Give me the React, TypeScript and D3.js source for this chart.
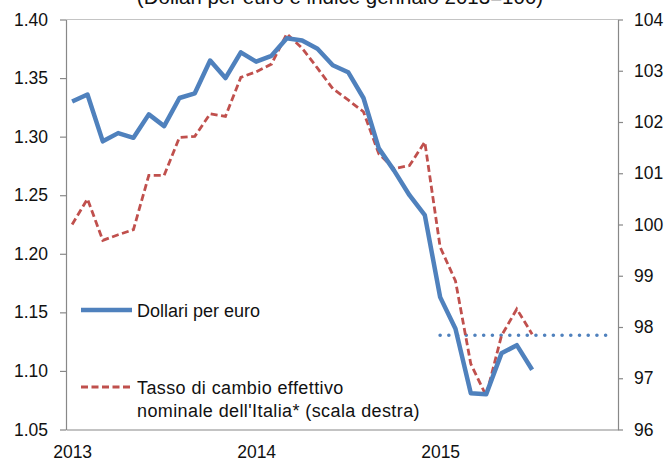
import React, { useEffect, useRef } from "react";
import * as d3 from "d3";

// months on the axis: Jan 2013 .. Dec 2015
const years = ["2013", "2014", "2015"];
const monthsPerYear = 12;

// Dollari per euro (left axis), Jan 2013 .. Jul 2015
const dollariPerEuro = [
  1.330, 1.336, 1.296, 1.303, 1.299, 1.319, 1.309, 1.333, 1.337, 1.365, 1.350, 1.372,
  1.364, 1.369, 1.384, 1.382, 1.375, 1.361, 1.355, 1.333, 1.290, 1.271, 1.250, 1.233,
  1.163, 1.136, 1.081, 1.080, 1.115, 1.122, 1.101,
];

// Tasso di cambio effettivo nominale dell'Italia (right axis, gen 2013 = 100)
const tassoEffettivo = [
  100.00, 100.50, 99.69, 99.80, 99.90, 100.96, 100.96, 101.70, 101.72, 102.16, 102.11, 102.87,
  102.98, 103.13, 103.72, 103.44, 103.05, 102.65, 102.43, 102.20, 101.38, 101.09, 101.15, 101.61,
  99.56, 98.90, 97.28, 96.66, 97.83, 98.35, 97.86,
];

// dotted level for 2015 (dollari per euro), Jan .. Dec 2015
const livello2015 = [1.1305, 1.1305, 1.1305, 1.1305, 1.1305, 1.1305, 1.1305, 1.1305, 1.1305, 1.1305, 1.1305, 1.1305];

const leftTicks = [1.05, 1.1, 1.15, 1.2, 1.25, 1.3, 1.35, 1.4];
const rightTicks = [96, 97, 98, 99, 100, 101, 102, 103, 104];

const title = "(Dollari per euro e indice gennaio 2013=100)";
const legendBlue = "Dollari per euro";
const legendRed = ["Tasso di cambio effettivo", "nominale dell'Italia* (scala destra)"];

const width = 666,
  height = 461;
const left = 66,
  right = 618,
  top = 19.5,
  bottom = 429.5;
const font = '"Liberation Sans", Arial, sans-serif';
const blue = "#4F81BD",
  red = "#C0504D",
  axisColor = "#888888";

const App = () => {
  const ref = useRef<SVGSVGElement>(null);

  useEffect(() => {
    const svg = d3.select(ref.current);
    svg.selectAll("*").remove();

    const nMonths = years.length * monthsPerYear;
    const xScale = d3.scaleLinear().domain([-0.4, nMonths - 0.4]).range([left, right]);
    const yLeft = d3.scaleLinear().domain([1.05, 1.4]).range([bottom, top]);
    const yRight = d3.scaleLinear().domain([96, 104]).range([bottom, top]);

    // title (mostly cut off at the top)
    svg.append("text")
      .attr("x", 340)
      .attr("y", 4)
      .attr("text-anchor", "middle")
      .attr("font-family", font)
      .attr("font-size", 20.5)
      .attr("fill", "#111")
      .text(title);

    // top border
    svg.append("line")
      .attr("x1", left).attr("x2", right)
      .attr("y1", top).attr("y2", top)
      .attr("stroke", "#c4c4c4");

    const styleAxis = (g: any) => {
      g.selectAll("path, line").attr("stroke", axisColor).attr("stroke-width", 1.2);
      g.selectAll("text").attr("fill", "#111").attr("font-size", 17.5).attr("font-family", font);
    };

    const xAxis = d3.axisBottom(xScale)
      .tickValues(years.map((_, i) => i * monthsPerYear))
      .tickFormat((d: any) => years[d / monthsPerYear])
      .tickSize(0)
      .tickPadding(16);
    svg.append("g")
      .attr("transform", "translate(0," + bottom + ")")
      .call(xAxis)
      .call(styleAxis);

    const yAxisLeft = d3.axisLeft(yLeft)
      .tickValues(leftTicks)
      .tickFormat(d3.format(".2f"))
      .tickSize(6)
      .tickSizeOuter(0)
      .tickPadding(12);
    svg.append("g")
      .attr("transform", "translate(" + left + ",0)")
      .call(yAxisLeft)
      .call(styleAxis);

    const yAxisRight = d3.axisRight(yRight)
      .tickValues(rightTicks)
      .tickFormat(d3.format("d"))
      .tickSize(5)
      .tickSizeOuter(0)
      .tickPadding(11);
    svg.append("g")
      .attr("transform", "translate(" + right + ",0)")
      .call(yAxisRight)
      .call(styleAxis);

    // dotted 2015 level
    const lineLevel = d3.line<number>()
      .x((d, i) => xScale(2 * monthsPerYear + i))
      .y((d) => yLeft(d));
    svg.append("path")
      .datum(livello2015)
      .attr("d", lineLevel)
      .attr("fill", "none")
      .attr("stroke", blue)
      .attr("stroke-width", 3.6)
      .attr("stroke-linecap", "round")
      .attr("stroke-dasharray", "0.01 8.7");

    // red dashed (right scale)
    const lineRed = d3.line<number>()
      .x((d, i) => xScale(i))
      .y((d) => yRight(d));
    svg.append("path")
      .datum(tassoEffettivo)
      .attr("d", lineRed)
      .attr("fill", "none")
      .attr("stroke", red)
      .attr("stroke-width", 2.8)
      .attr("stroke-dasharray", "7 3.5");

    // blue solid (left scale)
    const lineBlue = d3.line<number>()
      .x((d, i) => xScale(i))
      .y((d) => yLeft(d));
    svg.append("path")
      .datum(dollariPerEuro)
      .attr("d", lineBlue)
      .attr("fill", "none")
      .attr("stroke", blue)
      .attr("stroke-width", 4.5)
      .attr("stroke-linejoin", "round");

    // legend
    const legend = svg.append("g").attr("font-family", font).attr("font-size", 18).attr("fill", "#111");
    legend.append("line")
      .attr("x1", 81).attr("x2", 132).attr("y1", 310).attr("y2", 310)
      .attr("stroke", blue).attr("stroke-width", 4.5);
    legend.append("text").attr("x", 137).attr("y", 316.5).text(legendBlue);
    legend.append("line")
      .attr("x1", 81).attr("x2", 133).attr("y1", 387).attr("y2", 387)
      .attr("stroke", red).attr("stroke-width", 2.8).attr("stroke-dasharray", "7 3.5");
    legend.selectAll("text.red")
      .data(legendRed)
      .enter()
      .append("text")
      .attr("class", "red")
      .attr("x", 137)
      .attr("y", (d, i) => 393.5 + i * 23)
      .attr("letter-spacing", 0.4)
      .text((d) => d);
  }, []);

  return (
    <svg
      ref={ref}
      width={width}
      height={height}
      style={{ position: "absolute", left: 0, top: 0, background: "#fff" }}
    />
  );
};

export default App;
